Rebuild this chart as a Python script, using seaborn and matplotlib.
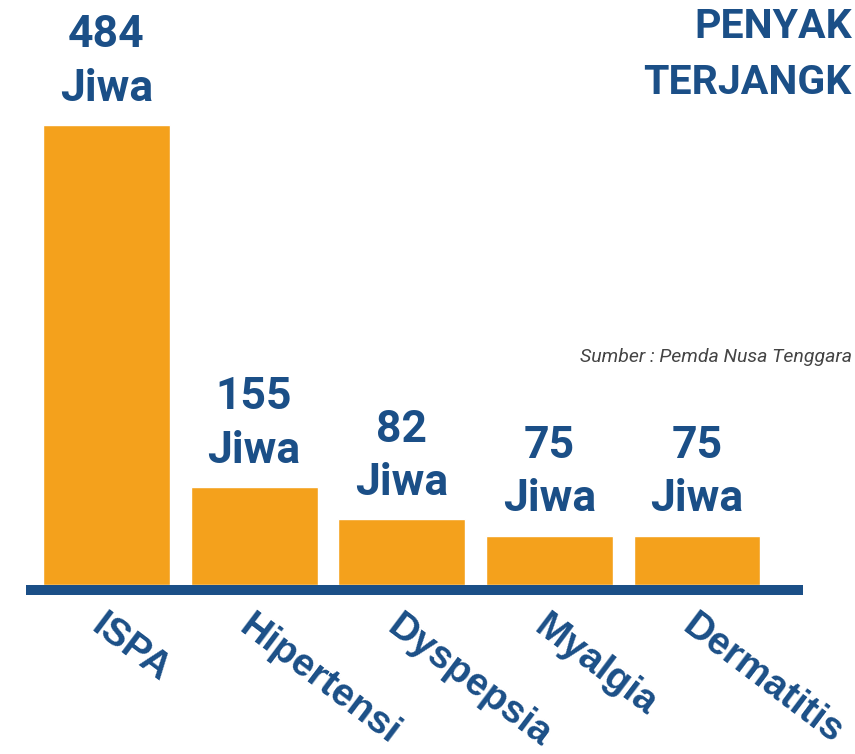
import pandas as pd
import matplotlib.pyplot as plt
import seaborn as sns

# ================= Data =================
penyakit = ["ISPA", "Hipertensi", "Dyspepsia", "Myalgia", "Dermatitis"]
jumlah = [484, 155, 82, 75, 75]          # numbers printed on the chart
tinggi = [484, 103, 69, 52, 52]          # bar heights as drawn in the infographic
label_nilai = [f"{v}\nJiwa" for v in jumlah]

df = pd.DataFrame({"penyakit": penyakit, "tinggi": tinggi})

ORANGE = "#F4A11C"
NAVY = "#1B4F87"

sns.set_theme(style="white")
plt.rcParams["font.family"] = ["Roboto", "DejaVu Sans"]

fig = plt.figure(figsize=(8.55, 7.54), dpi=100)
# axes from the top of the figure down to the baseline of the bars
ax = fig.add_axes([26 / 855, 169 / 754, 777 / 855, 585 / 754])

sns.barplot(data=df, x="penyakit", y="tinggi", color=ORANGE, saturation=1,
            width=0.86, ax=ax)

ax.set_xlim(-0.545, 4.718)
ax.set_ylim(0, 615.5)
ax.set_xlabel("")
ax.set_ylabel("")
ax.set_yticks([])

for s in ["top", "left", "right"]:
    ax.spines[s].set_visible(False)
ax.spines["bottom"].set_color(NAVY)
ax.spines["bottom"].set_linewidth(7.2)
ax.spines["bottom"].set_capstyle("butt")
ax.spines["bottom"].set_position(("outward", 3.6))

# value labels above bars
for i, (h, lab) in enumerate(zip(tinggi, label_nilai)):
    ax.annotate(lab, (i, h), xytext=(0, 11), textcoords="offset points",
                ha="center", va="bottom", fontsize=32, fontweight="bold",
                color=NAVY, linespacing=1.35, family=["Roboto", "DejaVu Sans"])

# category labels (rotated)
ax.tick_params(axis="x", length=0, pad=13)
ax.set_xticks(range(len(penyakit)))
ax.set_xticklabels(penyakit, rotation=-37, ha="left", va="top",
                   rotation_mode="anchor", fontsize=28, fontweight="bold",
                   color=NAVY, family=["Liberation Sans", "DejaVu Sans"])

# title (only the part visible in the original crop)
fig.text(694 / 855, 1 - 38 / 754, "PENYAK", ha="left", va="baseline",
         fontsize=29.5, fontweight="bold",
         family=["Roboto", "DejaVu Sans"], color=NAVY)
fig.text(643 / 855, 1 - 94 / 754, "TERJANGK", ha="left", va="baseline",
         fontsize=29.5, fontweight="bold",
         family=["Roboto", "DejaVu Sans"], color=NAVY)

# source
fig.text(580 / 855, 1 - 357 / 754, "Sumber : Pemda Nusa Tenggara",
         ha="left", va="center", fontsize=14, style="italic",
         family=["Roboto", "DejaVu Sans"], color="#444444")

fig.savefig("out.png", dpi=100)
